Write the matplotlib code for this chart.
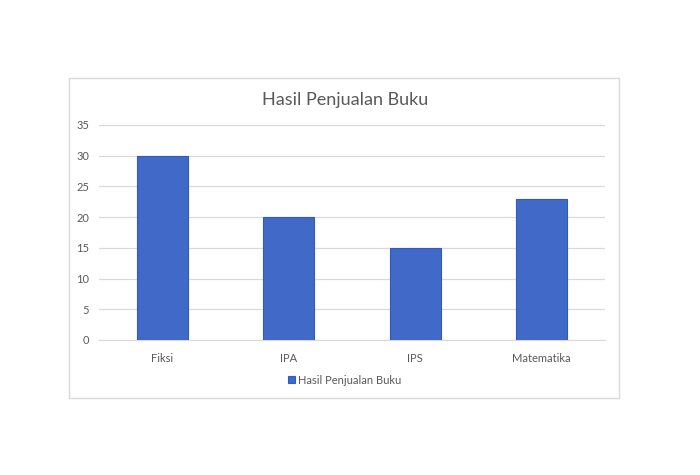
import matplotlib.pyplot as plt
from matplotlib.patches import Rectangle

categories = ['Fiksi', 'IPA', 'IPS', 'Matematika']
values = [30, 20, 15, 23]
series_name = 'Hasil Penjualan Buku'

plt.rcParams['font.family'] = ['Lato', 'DejaVu Sans']
text_color = '#595959'
bar_color = '#4169C8'

fig = plt.figure(figsize=(7, 4.75), dpi=100)
fig.patch.set_facecolor('white')

# chart frame
fig.patches.append(Rectangle((69 / 700, 1 - 398 / 475), 550 / 700, 320 / 475,
                             transform=fig.transFigure, fill=False,
                             edgecolor='#d9d9d9', linewidth=1))

ax = fig.add_axes([99 / 700, 1 - 340 / 475, 506 / 700, 215 / 475])
ax.bar(range(len(categories)), values, width=0.4, color=bar_color,
       edgecolor='#2f5bbf', linewidth=0.8, label=series_name, zorder=3)

ax.set_xlim(-0.5, len(categories) - 0.5)
ax.set_ylim(0, 35)
ax.set_yticks(range(0, 36, 5))
ax.set_xticks(range(len(categories)))
ax.set_xticklabels(categories)
ax.grid(axis='y', color='#d9d9d9', linewidth=0.9, zorder=0)
for side in ['top', 'right', 'left']:
    ax.spines[side].set_visible(False)
ax.spines['bottom'].set_color('#d9d9d9')
ax.tick_params(length=0, colors=text_color, labelsize=8)
ax.tick_params(axis='x', pad=9)
ax.tick_params(axis='y', pad=7)

fig.text(345 / 700, 1 - 100 / 475, series_name, ha='center', va='center',
         fontsize=13, color=text_color)

fig.legend(loc='center', bbox_to_anchor=(345 / 700, 1 - 380 / 475), frameon=False,
           fontsize=8, labelcolor=text_color, handlelength=0.6, handleheight=0.6,
           handletextpad=0.3)

fig.savefig('out.png', dpi=100)
